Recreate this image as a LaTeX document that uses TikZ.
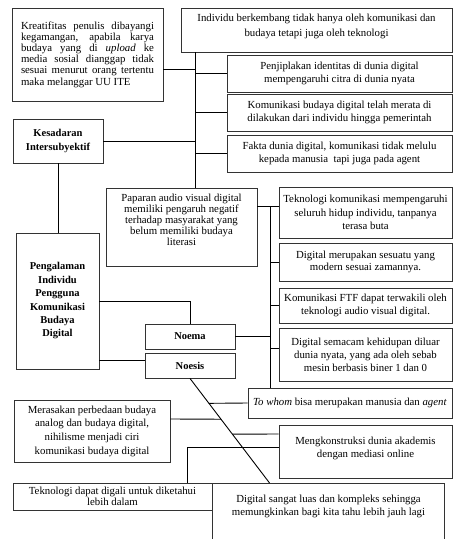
\documentclass[tikz,border=0pt]{standalone}
\usepackage{fontspec}
\setmainfont{Liberation Serif}
\usetikzlibrary{positioning, calc}

\begin{document}
\begin{tikzpicture}[
    x=1pt, y=-1pt,
    box/.style={draw=black!80, line width=0.9pt, inner xsep=1pt, inner ysep=2pt, align=center, font=\fontsize{10.8}{12.8}\selectfont},
    mainbox/.style={box, font=\fontsize{10.5}{13.4}\selectfont\bfseries},
    link/.style={line width=0.9pt},
]
    \useasboundingbox (0,0) rectangle (454,539);

    % Top group
    \node[box, minimum width=151pt, minimum height=93pt, text width=133pt, align=justify, font=\fontsize{10.8}{11.2}\selectfont] (kreatif) at (87.5,54.5) {Kreatifitas penulis dibayangi\linebreak kegamangan, apabila karya\linebreak budaya yang di \textit{upload} ke\linebreak media sosial dianggap tidak\linebreak sesuai menurut orang tertentu\linebreak maka melanggar UU ITE};
    \node[box, minimum width=271pt, minimum height=44pt, font=\fontsize{10.8}{15}\selectfont, text depth=10.5pt] (indiv) at (316.5,30) {Individu berkembang tidak hanya oleh komunikasi dan\\budaya tetapi juga oleh teknologi};
    \node[box, minimum width=225pt, minimum height=37pt] (penjip) at (339.5,73.5) {Penjiplakan identitas di dunia digital\\mempengaruhi citra di dunia nyata};
    \node[box, minimum width=225pt, minimum height=37pt] (merata) at (339.5,112.5) {Komunikasi budaya digital telah merata di\\dilakukan dari individu hingga pemerintah};
    \node[box, minimum width=225pt, minimum height=37pt] (fakta) at (339.5,153.5) {Fakta dunia digital, komunikasi tidak melulu\\kepada manusia\ \ tapi juga pada agent};

    % Main concepts
    \node[mainbox, minimum width=90pt, minimum height=44pt] (kesadaran) at (58,141) {Kesadaran\\Intersubyektif};
    \node[mainbox, minimum width=83pt, minimum height=136pt] (pengalaman) at (57.5,301) {Pengalaman\\Individu\\Pengguna\\Komunikasi\\Budaya\\Digital};
    \node[mainbox, minimum width=90pt, minimum height=25pt] (noema) at (190,336.5) {Noema};
    \node[mainbox, minimum width=90pt, minimum height=25pt] (noesis) at (190,365.5) {Noesis};

    % Middle group
    \node[box, minimum width=151pt, minimum height=78pt, font=\fontsize{10.8}{11.2}\selectfont, text depth=14.5pt] (paparan) at (181.5,227) {Paparan audio visual digital\\memiliki pengaruh negatif\\terhadap masyarakat yang\\belum memiliki budaya\\literasi};
    \node[box, minimum width=173pt, minimum height=51pt, font=\fontsize{10.8}{13.3}\selectfont] (tekkom) at (365.5,212.5) {Teknologi komunikasi mempengaruhi\\seluruh hidup individu, tanpanya\\terasa buta};
    \node[box, minimum width=173pt, minimum height=38pt] (modern) at (365.5,262) {Digital merupakan sesuatu yang\\modern sesuai zamannya.};
    \node[box, minimum width=173pt, minimum height=35pt] (ftf) at (365.5,305.5) {Komunikasi FTF dapat terwakili oleh\\teknologi audio visual digital.};
    \node[box, minimum width=173pt, minimum height=53pt] (semacam) at (365.5,354.5) {Digital semacam kehidupan diluar\\dunia nyata, yang ada oleh sebab\\mesin berbasis biner 1 dan 0};
    \node[box, minimum width=204pt, minimum height=30pt] (towhom) at (350,403) {\textit{To whom} bisa merupakan manusia dan \textit{agent}};

    % Bottom group
    \node[box, minimum width=156pt, minimum height=62pt, font=\fontsize{10.8}{13.7}\selectfont] (merasakan) at (92,431) {Merasakan perbedaan budaya\\analog dan budaya digital,\\nihilisme menjadi ciri\\komunikasi budaya digital};
    \node[box, minimum width=173pt, minimum height=53pt, text depth=8.5pt] (akademis) at (365.5,451.5) {Mengkonstruksi dunia akademis\\dengan mediasi online};
    \node[box, minimum width=199pt, minimum height=27pt, font=\fontsize{10.8}{10.5}\selectfont] (digali) at (112.5,496.5) {Teknologi dapat digali untuk diketahui\\lebih dalam};
    \node[box, draw=none, minimum width=231pt, minimum height=56pt, anchor=north, inner ysep=12pt, text depth=28pt] (luas) at (328.5,483) {Digital sangat luas dan kompleks sehingga\\memungkinkan bagi kita tahu lebih jauh lagi};
    \draw[draw=black!80, line width=0.9pt] (luas.south west) -- (luas.north west) -- (luas.north east) -- (luas.south east);

    % Trunks and junctions
    \coordinate (trunkA) at (195,0);
    \coordinate (trunkB) at (270,0);
    \coordinate (diagEnd) at ($(luas.north west)+(57,0)$);
    \coordinate (kreatifOut) at ([yshift=-14.5pt]kreatif.east);
    \coordinate (tekkomIn) at ([yshift=6.5pt]tekkom.west);
    \coordinate (semacamIn) at ([yshift=6pt]semacam.west);
    \coordinate (noesisIn) at ([yshift=5.5pt]noesis.west);
    \coordinate (merasakanOut) at ([yshift=12pt]merasakan.east);
    \coordinate (akademisIn) at ([yshift=17.5pt]akademis.west);
    \coordinate (digaliIn) at ([yshift=4.5pt]akademis.west);
    \coordinate (digaliOut) at ([xshift=74.5pt]digali.north);

    % Connectors
    \draw[link] (trunkA |- indiv.south) -- (trunkA |- paparan.north);
    \draw[link] (kreatifOut) -- (trunkA |- kreatifOut);
    \draw[link] (kesadaran.east) -- (trunkA |- kesadaran.east);
    \draw[link] (trunkA |- penjip.west) -- (penjip.west);
    \draw[link] (trunkA |- merata.west) -- (merata.west);
    \draw[link] (trunkA |- fakta.west) -- (fakta.west);

    \draw[link] (paparan.east |- tekkomIn) -- (tekkomIn);
    \draw[link] (trunkB |- tekkomIn) -- (trunkB |- towhom.north);
    \draw[link] (noema.east) -- (trunkB |- noema.east);
    \draw[link] (trunkB |- modern.west) -- (modern.west);
    \draw[link] (trunkB |- ftf.west) -- (ftf.west);
    \draw[link] (trunkB |- semacamIn) -- (semacamIn);

    \draw[link] (kesadaran.south) -- (kesadaran.south |- pengalaman.north);
    \draw[link] (pengalaman.east) -| (noema.north);
    \draw[link] (noesisIn) -- (noesisIn -| pengalaman.east);

    \draw[link] (noesis.south) -- (diagEnd);
    \draw[link] ($(noesis.south)!0.238!(diagEnd)$ |- towhom.west) -- (towhom.west);
    \draw[link] (merasakanOut) -- ($(noesis.south)!0.39!(diagEnd)$ |- merasakanOut);
    \draw[link] ($(noesis.south)!0.533!(diagEnd)$ |- akademisIn) -- (akademisIn);
    \draw[link] (digaliOut) |- (digaliIn);

\end{tikzpicture}
\end{document}
